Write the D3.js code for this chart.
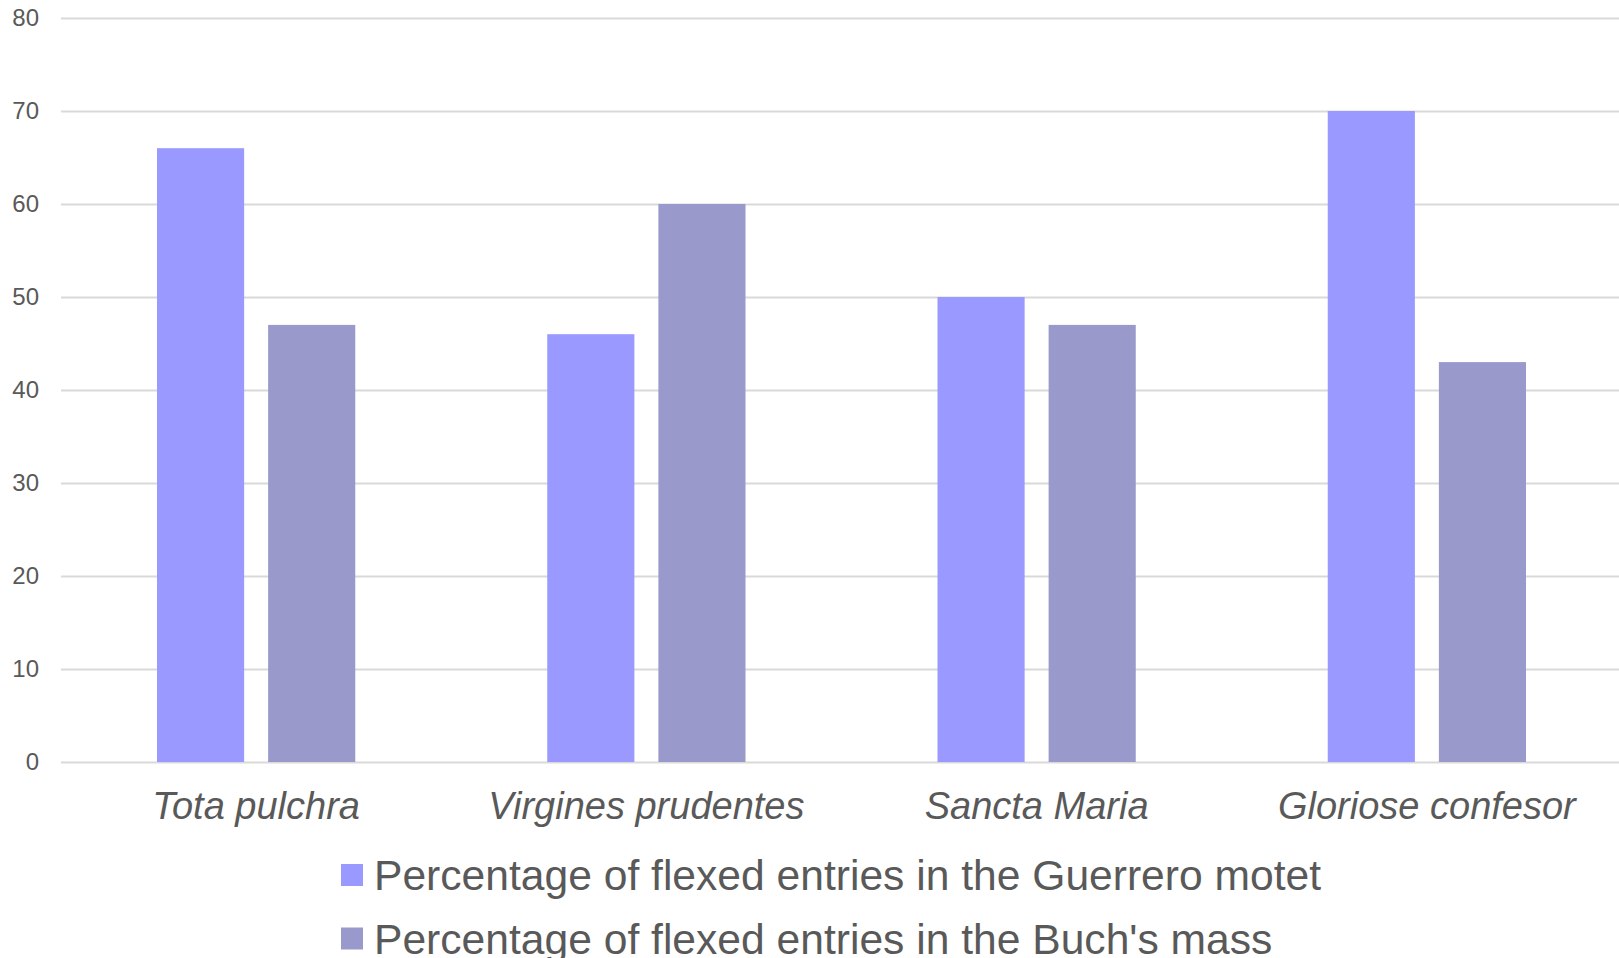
<!DOCTYPE html>
<html>
<head>
<meta charset="utf-8">
<script src="https://cdn.jsdelivr.net/npm/d3@7"></script>
<style>
  html, body { margin: 0; padding: 0; background: #fff; }
  svg { display: block; }
  text { font-family: "Liberation Sans", Arial, sans-serif; fill: #595959; }
</style>
</head>
<body>
<svg id="chart" width="1619" height="958"></svg>
<script>
// Pieces and percentages of flexed entries
const categories = ["Tota pulchra", "Virgines prudentes", "Sancta Maria", "Gloriose confesor"];
const seriesNames = [
  "Percentage of flexed entries in the Guerrero motet",
  "Percentage of flexed entries in the Buch's mass"
];
const guerreroValues = [66, 46, 50, 70];
const buchValues = [47, 60, 47, 43];
const yTicks = [0, 10, 20, 30, 40, 50, 60, 70, 80];
const colors = ["#9999FF", "#9999CC"];

const seriesValues = [guerreroValues, buchValues];
const rows = categories.map((c, i) => ({
  category: c,
  values: seriesNames.map((s, k) => ({ series: s, value: seriesValues[k][i] }))
}));

const svg = d3.select("#chart");
const plot = { left: 61, right: 1622, top: 18, bottom: 762 };

const y = d3.scaleLinear().domain([0, 80]).range([plot.bottom, plot.top]);
const x0 = d3.scaleBand().domain(categories).range([plot.left, plot.right])
  .paddingInner(0.492).paddingOuter(0.246);
const x1 = d3.scaleBand().domain(seriesNames).range([0, x0.bandwidth()])
  .paddingInner(0.216).paddingOuter(0);
const color = d3.scaleOrdinal().domain(seriesNames).range(colors);

// Horizontal gridlines with tick labels
const yAxis = d3.axisLeft(y).tickValues(yTicks).tickSize(-(plot.right - plot.left)).tickPadding(22);
const gy = svg.append("g").attr("transform", `translate(${plot.left},0)`).call(yAxis);
gy.select(".domain").remove();
gy.selectAll(".tick line").attr("stroke", "#d9d9d9").attr("stroke-width", 2);
gy.selectAll(".tick text").attr("font-size", 24).style("fill", "#595959")
  .attr("font-family", "Liberation Sans, Arial, sans-serif");

// Grouped bars
const groups = svg.append("g").selectAll("g").data(rows).join("g")
  .attr("transform", d => `translate(${x0(d.category)},0)`);
groups.selectAll("rect").data(d => d.values).join("rect")
  .attr("x", d => x1(d.series))
  .attr("width", x1.bandwidth())
  .attr("y", d => y(d.value))
  .attr("height", d => y(0) - y(d.value))
  .attr("fill", d => color(d.series));

// Category labels
const xAxis = d3.axisBottom(x0).tickSize(0).tickPadding(0);
const gx = svg.append("g").attr("transform", `translate(0,${plot.bottom})`).call(xAxis);
gx.select(".domain").remove();
gx.selectAll(".tick text")
  .attr("dy", null).attr("y", 57)
  .attr("font-size", 38).attr("font-style", "italic")
  .attr("font-family", "Liberation Sans, Arial, sans-serif")
  .style("fill", "#595959");

// Legend
const legend = svg.append("g").selectAll("g").data(seriesNames).join("g")
  .attr("transform", (d, i) => `translate(341,${875 + i * 63.5})`);
legend.append("rect").attr("x", 0).attr("y", -11).attr("width", 22).attr("height", 22)
  .attr("fill", d => color(d));
legend.append("text").attr("x", 33).attr("y", 15)
  .attr("font-size", 42.6).text(d => d);
</script>
</body>
</html>
